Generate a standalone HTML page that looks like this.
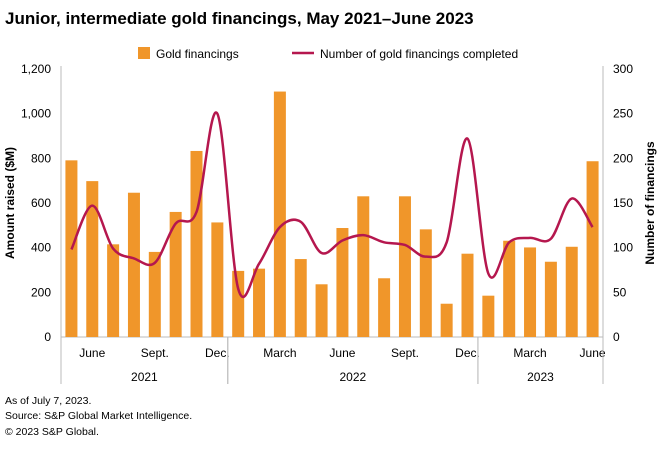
<!DOCTYPE html>
<html><head><meta charset="utf-8"><style>
body{margin:0;background:#fff;font-family:"Liberation Sans",sans-serif;}
svg text{font-family:"Liberation Sans",sans-serif;}
</style></head><body>
<svg id="chart" width="660" height="449" xmlns="http://www.w3.org/2000/svg">
<text x="5" y="24" font-size="17" font-weight="bold" fill="#000">Junior, intermediate gold financings, May 2021–June 2023</text>
<g>
<rect x="138" y="47" width="12" height="12" fill="#f0962a"/>
<text x="156" y="58" font-size="12" fill="#000">Gold financings</text>
<line x1="292" y1="53" x2="314" y2="53" stroke="#b5174e" stroke-width="2.5"/>
<text x="320" y="58" font-size="12" fill="#000">Number of gold financings completed</text>
</g>
<g id="axes"></g>
<g id="bars"></g>
<path id="line" fill="none" stroke="#b5174e" stroke-width="2.5"/>
<text transform="translate(14,203) rotate(-90)" text-anchor="middle" font-size="12" font-weight="bold" fill="#000">Amount raised ($M)</text>
<text transform="translate(654,203) rotate(-90)" text-anchor="middle" font-size="12" font-weight="bold" fill="#000">Number of financings</text>
<text x="5" y="404" font-size="10.5" fill="#000">As of July 7, 2023.</text>
<text x="5" y="419" font-size="10.5" fill="#000">Source: S&amp;P Global Market Intelligence.</text>
<text x="5" y="435" font-size="10.5" fill="#000">© 2023 S&amp;P Global.</text>
</svg>
<script>
const amounts=[791,698,415,646,381,560,833,513,296,306,1099,349,236,488,630,263,630,482,149,373,185,431,401,337,404,787];
const counts=[98,147,99,88,83,127,140,250,54,82,123,129,94,108,114,106,103,90,106,222,71,106,111,110,155,123];
const monthLabels=["","June","","","Sept.","","","Dec.","","","March","","","June","","","Sept.","","","Dec.","","","March","","","June"];
const leftTicks=[0,200,400,600,800,1000,1200];
const rightTicks=[0,50,100,150,200,250,300];
const years=[{label:"2021",start:0,end:8},{label:"2022",start:8,end:20},{label:"2023",start:20,end:26}];

const NS="http://www.w3.org/2000/svg";
const X0=61,X1=603,Y0=337,Y1=69;
const n=amounts.length,slot=(X1-X0)/n;
const xc=i=>X0+slot*(i+0.5);
const yL=v=>Y0-(v/1200)*(Y0-Y1);
const yR=v=>Y0-(v/300)*(Y0-Y1);
function mk(tag,attrs,parent){const e=document.createElementNS(NS,tag);for(const k in attrs)e.setAttribute(k,attrs[k]);parent.appendChild(e);return e;}
const axes=document.getElementById('axes'),bars=document.getElementById('bars');
let e;
e=mk('line',{x1:X0,y1:Y1-3,x2:X0,y2:Y0,stroke:'#bbb','stroke-width':1},axes);


e=mk('line',{x1:X1,y1:Y1-3,x2:X1,y2:Y0,stroke:'#bbb','stroke-width':1},axes);


e=mk('line',{x1:X0,y1:Y0,x2:X1,y2:Y0,stroke:'#bbb','stroke-width':1},axes);


leftTicks.forEach(v=>{
 e=mk('text',{x:X0-10,y:yL(v)+4,'text-anchor':'end','font-size':12,fill:'#000'},axes);
 e.textContent=v.toLocaleString('en-US');
 
 
});
rightTicks.forEach(v=>{
 e=mk('text',{x:X1+10,y:yR(v)+4,'text-anchor':'start','font-size':12,fill:'#000'},axes);
 e.textContent=v;
 
 
});
monthLabels.forEach((l,i)=>{
 if(!l)return;
 e=mk('text',{x:xc(i),y:357,'text-anchor':'middle','font-size':12,fill:'#000'},axes);
 e.textContent=l;
 
 
});
years.forEach(yr=>{
 e=mk('text',{x:(X0+slot*yr.start+X0+slot*yr.end)/2,y:381,'text-anchor':'middle','font-size':12,fill:'#000'},axes);
 e.textContent=yr.label;
 
 
 [yr.start,yr.end].forEach(b=>{
  e=mk('line',{x1:X0+slot*b,y1:Y0,x2:X0+slot*b,y2:384,stroke:'#bbb','stroke-width':1},axes);
  
  
 });
});
const bw=12;
amounts.forEach((v,i)=>{
 e=mk('rect',{x:xc(i)-bw/2,y:yL(v),width:bw,height:Y0-yL(v),fill:'#f0962a'},bars);
 
 
});
const pts=counts.map((v,i)=>[xc(i),yR(v)]);
let d='M'+pts[0][0]+','+pts[0][1];
for(let i=0;i<pts.length-1;i++){
 const p0=pts[Math.max(i-1,0)],p1=pts[i],p2=pts[i+1],p3=pts[Math.min(i+2,pts.length-1)];
 const t=1/6;
 const c1=[p1[0]+(p2[0]-p0[0])*t,p1[1]+(p2[1]-p0[1])*t];
 const c2=[p2[0]-(p3[0]-p1[0])*t,p2[1]-(p3[1]-p1[1])*t];
 d+=' C'+c1[0]+','+c1[1]+' '+c2[0]+','+c2[1]+' '+p2[0]+','+p2[1];
}
document.getElementById('line').setAttribute('d',d);
</script>
</body></html>
